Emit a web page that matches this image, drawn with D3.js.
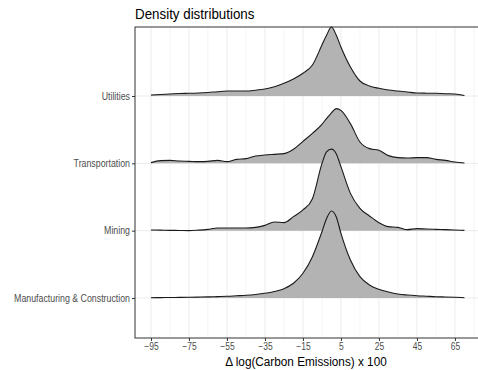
<!DOCTYPE html>
<html>
<head>
<meta charset="utf-8">
<script src="https://cdn.jsdelivr.net/npm/d3@7"></script>
<style>
  body { margin: 0; background: #fff; }
  text { font-family: "Liberation Sans", Arial, sans-serif; }
</style>
</head>
<body>
<script>
// categories bottom -> top
const categories = ["Manufacturing & Construction", "Mining", "Transportation", "Utilities"]
const xGrid = [-95,-90,-85,-80,-75,-70,-65,-60,-55,-50,-45,-40,-35,-30,-25,-20,-15,-10,-5,-2.5,0,2.5,5,10,15,20,25,30,35,40,45,50,55,60,65,70]
const densUtilities = [1,1.5,2,2.5,2.7,3,3.5,4.3,5,5,5,5.8,7,9.3,12.7,17,22.7,31,51,61,69,61,49,29,15,10,7.7,6,5,4,3,2.8,2.7,2.3,2,0.5]
const densTransportation = [0.7,2.7,3,2.3,2,1.7,2,3,1.7,4,4.7,7.3,8.3,9,9.7,14,22,30,39,45,50.5,54.7,53,39.7,21.3,14.7,13,7.7,5.7,5.3,5.7,5.7,4,3,1.3,0.3]
const densMining = [0.7,0.5,0.3,0.2,0,0.5,1.3,2.7,2.7,2.7,2.7,3.3,5.3,8.7,8,14,20.7,32,67,79,81.5,77,64,37.3,22.3,14.7,8,4,3.3,1,2,1.6,1.3,1,0.7,0.3]
const densManufacturing = [0.3,0.4,0.5,0.6,0.7,0.9,1.1,1.4,1.7,2.2,2.7,3.5,4.7,6.5,9.3,14.7,24.7,41.3,66.3,79.7,87,81.3,64.7,38,21.3,13,8.7,6,4,3,2.3,1.8,1.3,1,0.7,0.3]
const xTicks = [-95,-75,-55,-35,-15,5,25,45,65]
const xMinor = [-85,-65,-45,-25,-5,15,35,55,75]

const series = [
  {name: "Utilities", d: densUtilities},
  {name: "Transportation", d: densTransportation},
  {name: "Mining", d: densMining},
  {name: "Manufacturing & Construction", d: densManufacturing}
]

const width = 478, height = 370
const pLeft = 135, pRight = 480, pTop = 27, pBottom = 338

const svg = d3.select("body").append("svg")
  .attr("width", width).attr("height", height)

// squeeze text a bit, the reference font runs narrower
const condense = (sel, k) => sel.each(function() {
  const len = this.getComputedTextLength()
  d3.select(this).attr("textLength", len * k).attr("lengthAdjust", "spacingAndGlyphs")
})

const x = d3.scaleLinear().domain([-103.4, 78.2]).range([pLeft, pRight])
const y = d3.scalePoint().domain(categories).range([298, 96])
const h = d3.scaleLinear().domain([0, 100]).range([0, 100]) // density units -> px

// gridlines
const grid = svg.append("g")
grid.selectAll(".minor").data(xMinor).enter().append("line")
  .attr("x1", d => x(d)).attr("x2", d => x(d))
  .attr("y1", pTop).attr("y2", pBottom)
  .attr("stroke", "#f0f0f0").attr("stroke-width", 0.7)
grid.selectAll(".major").data(xTicks).enter().append("line")
  .attr("x1", d => x(d)).attr("x2", d => x(d))
  .attr("y1", pTop).attr("y2", pBottom)
  .attr("stroke", "#ebebeb").attr("stroke-width", 1)
grid.selectAll(".hmaj").data(categories).enter().append("line")
  .attr("x1", pLeft).attr("x2", pRight)
  .attr("y1", d => y(d)).attr("y2", d => y(d))
  .attr("stroke", "#ebebeb").attr("stroke-width", 1)

// ridges, top first so lower ones overlap
const area = d3.area()
  .x((d, i) => x(xGrid[i]))
  .curve(d3.curveMonotoneX)
const line = d3.line()
  .x((d, i) => x(xGrid[i]))
  .curve(d3.curveMonotoneX)

series.forEach(s => {
  const base = y(s.name)
  svg.append("path")
    .attr("d", area.y0(base).y1(d => base - h(d))(s.d))
    .attr("fill", "#b3b3b3")
  svg.append("path")
    .attr("d", line.y(d => base - h(d))(s.d))
    .attr("fill", "none").attr("stroke", "#1a1a1a").attr("stroke-width", 1.1)
})

// panel border
svg.append("rect")
  .attr("x", pLeft).attr("y", pTop)
  .attr("width", pRight - pLeft).attr("height", pBottom - pTop)
  .attr("fill", "none").attr("stroke", "#333").attr("stroke-width", 1)

// axes
const xAxis = d3.axisBottom(x).tickValues(xTicks).tickSize(3).tickPadding(2)
  .tickFormat(d => d < 0 ? "\u2212" + Math.abs(d) : d)
const gx = svg.append("g").attr("transform", `translate(0,${pBottom})`).call(xAxis)
gx.select(".domain").remove()
gx.selectAll("line").attr("stroke", "#333")
gx.selectAll("text").attr("fill", "#4d4d4d").style("font-size", "10px").call(condense, 0.85)

const yAxis = d3.axisLeft(y).tickSize(3).tickPadding(2)
const gy = svg.append("g").attr("transform", `translate(${pLeft},0)`).call(yAxis)
gy.select(".domain").remove()
gy.selectAll("line").attr("stroke", "#333")
gy.selectAll("text").attr("fill", "#4d4d4d").style("font-size", "10px").call(condense, 0.88)

// titles
svg.append("text").attr("x", pLeft).attr("y", 19)
  .style("font-size", "15px").attr("fill", "#000")
  .text("Density distributions").call(condense, 0.89)
svg.append("text").attr("x", 306).attr("y", 366)
  .attr("text-anchor", "middle").style("font-size", "12px").attr("fill", "#000")
  .text("\u0394 log(Carbon Emissions) x 100").call(condense, 0.98)
</script>
</body>
</html>
